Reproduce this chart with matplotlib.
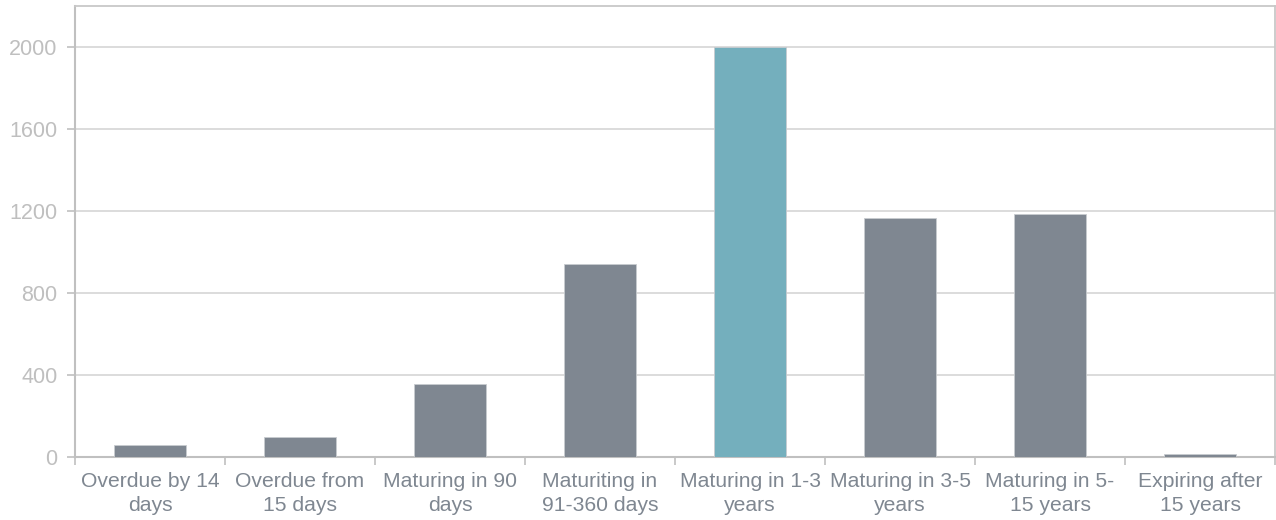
import matplotlib
matplotlib.use("Agg")
import matplotlib.pyplot as plt
import numpy as np

categories = [
    "Overdue by 14\ndays",
    "Overdue from\n15 days",
    "Maturing in 90\ndays",
    "Maturiting in\n91-360 days",
    "Maturing in 1-3\nyears",
    "Maturing in 3-5\nyears",
    "Maturing in 5-\n15 years",
    "Expiring after\n15 years",
]
values = [60, 100, 355, 940, 2000, 1165, 1185, 15]
highlight_index = 4
y_ticks = [0, 400, 800, 1200, 1600, 2000]

plt.rcParams["font.family"] = ["Liberation Sans", "DejaVu Sans"]

grey_bar = "#7f8791"
teal_bar = "#74afbd"
grid_col = "#d9d9d9"
spine_col = "#c0c0c0"

fig = plt.figure(figsize=(12.76, 5.2), dpi=100)
ax = fig.add_axes([75 / 1276, 63 / 520, 1200 / 1276, 451 / 520])

x = np.arange(len(categories))
colors = [teal_bar if i == highlight_index else grey_bar for i in range(len(values))]
ax.bar(x, values, width=0.48, color=colors, edgecolor="#c8ccd0", linewidth=0.6, zorder=3)

ax.set_xlim(-0.5, len(categories) - 0.5)
ax.set_ylim(0, 2200)
ax.set_yticks(y_ticks)
ax.set_yticklabels([str(v) for v in y_ticks], color="#bfbfbf", fontsize=15.5)
ax.yaxis.grid(True, color=grid_col, linewidth=1.3, zorder=0)
ax.tick_params(axis="y", length=6, width=1.2, color=spine_col, pad=6.5)

# category labels centred on bars, tick marks on category boundaries
ax.set_xticks(x)
ax.set_xticklabels(categories, color="#7f8791", fontsize=15.2, linespacing=1.3)
ax.tick_params(axis="x", which="major", length=0, pad=11)
ax.set_xticks(np.arange(len(categories) + 1) - 0.5, minor=True)
ax.tick_params(axis="x", which="minor", length=6, width=1.2, color=spine_col)

for side in ["left", "bottom"]:
    ax.spines[side].set_color(spine_col)
    ax.spines[side].set_linewidth(1.5)
for side in ["top", "right"]:
    ax.spines[side].set_color("#c8c8c8")
    ax.spines[side].set_linewidth(1.3)

fig.savefig("out.png", dpi=100)
